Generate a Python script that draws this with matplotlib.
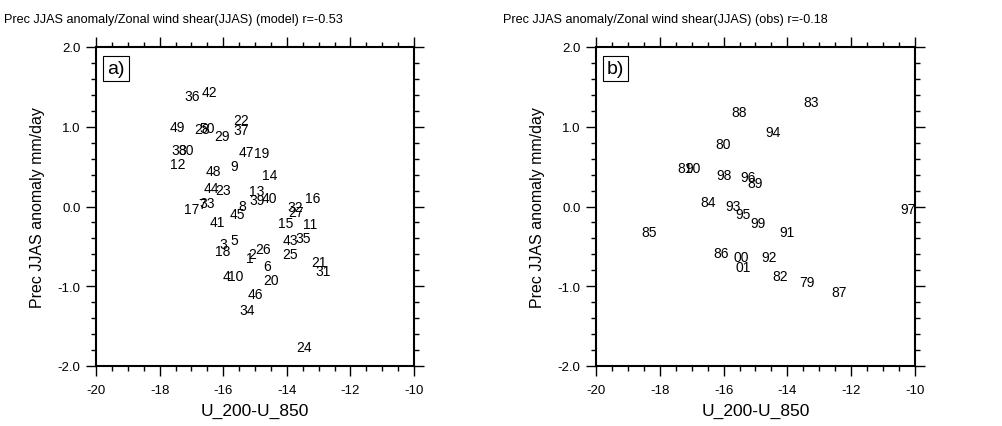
import matplotlib
matplotlib.use("Agg")
import matplotlib.pyplot as plt
from matplotlib.ticker import MultipleLocator

plt.rcParams['font.family'] = ['Liberation Sans', 'DejaVu Sans']

# ---- Data (model, panel a) ----
model_labels = [str(i) for i in range(1, 51)]
model_x = [-15.16, -15.10, -16.00, -15.91, -15.65, -14.61, -16.65, -15.39, -15.65, -15.60,
           -13.27, -17.42, -14.95, -14.53, -14.03, -13.20, -16.99, -16.03, -14.79, -14.48,
           -12.99, -15.44, -16.02, -13.46, -13.90, -14.74, -13.72, -16.65, -16.05, -17.15,
           -12.85, -13.72, -16.50, -15.24, -13.48, -16.97, -15.45, -17.38, -14.93, -14.55,
           -16.20, -16.44, -13.90, -16.36, -15.56, -15.00, -15.26, -16.31, -17.44, -16.50]
model_y = [-0.65, -0.60, -0.47, -0.87, -0.42, -0.74, 0.03, 0.01, 0.51, -0.87,
           -0.22, 0.53, 0.19, 0.39, -0.21, 0.11, -0.03, -0.56, 0.67, -0.92,
           -0.70, 1.08, 0.21, -1.76, -0.60, -0.53, -0.07, 0.97, 0.89, 0.71,
           -0.81, -0.01, 0.05, -1.30, -0.40, 1.38, 0.96, 0.71, 0.08, 0.11,
           -0.20, 1.44, -0.42, 0.23, -0.10, -1.10, 0.68, 0.45, 1.00, 0.98]

# ---- Data (obs, panel b) ----
obs_labels = ["79", "80", "81", "82", "83", "84", "85", "86", "87", "88", "89",
              "90", "91", "92", "93", "94", "95", "96", "97", "98", "99", "00", "01"]
obs_x = [-13.39, -16.01, -17.21, -14.23, -13.26, -16.48, -18.33, -16.08, -12.37, -15.52, -15.00,
         -16.97, -14.00, -14.57, -15.70, -14.44, -15.38, -15.23, -10.21, -15.99, -14.91, -15.46, -15.38]
obs_y = [-0.95, 0.78, 0.48, -0.87, 1.31, 0.06, -0.32, -0.58, -1.07, 1.19, 0.30,
         0.48, -0.32, -0.63, 0.01, 0.94, -0.10, 0.37, -0.03, 0.39, -0.21, -0.63, -0.76]

titles = ["Prec JJAS anomaly/Zonal wind shear(JJAS) (model) r=-0.53",
          "Prec JJAS anomaly/Zonal wind shear(JJAS) (obs) r=-0.18"]
panel_tags = ["a)", "b)"]
xticks = [-20, -18, -16, -14, -12, -10]
yticks = [-2.0, -1.0, 0.0, 1.0, 2.0]

W, H = 1003, 427
fig = plt.figure(figsize=(W / 100, H / 100), dpi=100)

def px2fig(x0, x1, y0, y1):
    return [x0 / W, 1 - y1 / H, (x1 - x0) / W, (y1 - y0) / H]

axes = [fig.add_axes(px2fig(96, 414, 48, 367)),
        fig.add_axes(px2fig(596, 915, 48, 367))]
title_x = [4, 503]

datasets = [(model_x, model_y, model_labels), (obs_x, obs_y, obs_labels)]

for ax, (xs, ys, labs), title, tag, tx in zip(axes, datasets, titles, panel_tags, title_x):
    ax.set_xlim(-20, -10)
    ax.set_ylim(-2, 2)
    for x, y, s in zip(xs, ys, labs):
        ax.text(x, y, s, ha='center', va='center', fontsize=10, color='black')
    ax.set_xticks(xticks)
    ax.set_xticklabels([f"{t}" for t in xticks])
    ax.set_yticks(yticks)
    ax.set_yticklabels([f"{t:.1f}" for t in yticks])
    ax.xaxis.set_minor_locator(MultipleLocator(0.5))
    ax.yaxis.set_minor_locator(MultipleLocator(0.2))
    ax.tick_params(which='both', direction='out', top=True, right=True,
                   labeltop=False, labelright=False, labelsize=9.5, width=1.0)
    ax.tick_params(which='major', length=7)
    ax.tick_params(which='minor', length=3.5)
    ax.tick_params(axis='x', which='major', pad=6)
    ax.tick_params(axis='y', which='major', pad=4)
    for sp in ax.spines.values():
        sp.set_linewidth(1.5)
    ax.set_xlabel("U_200-U_850", fontsize=12.5, labelpad=5)
    ax.set_ylabel("Prec JJAS anomaly mm/day", fontsize=11.5, labelpad=9)
    ax.text(0.035, 0.96, tag, transform=ax.transAxes, ha='left', va='top', fontsize=14,
            bbox=dict(boxstyle='square,pad=0.2', fc='white', ec='black', lw=0.8))
    fig.text(tx / W, 1 - 20 / H, title, ha='left', va='center', fontsize=9.1)

fig.savefig("out.png", dpi=100)
